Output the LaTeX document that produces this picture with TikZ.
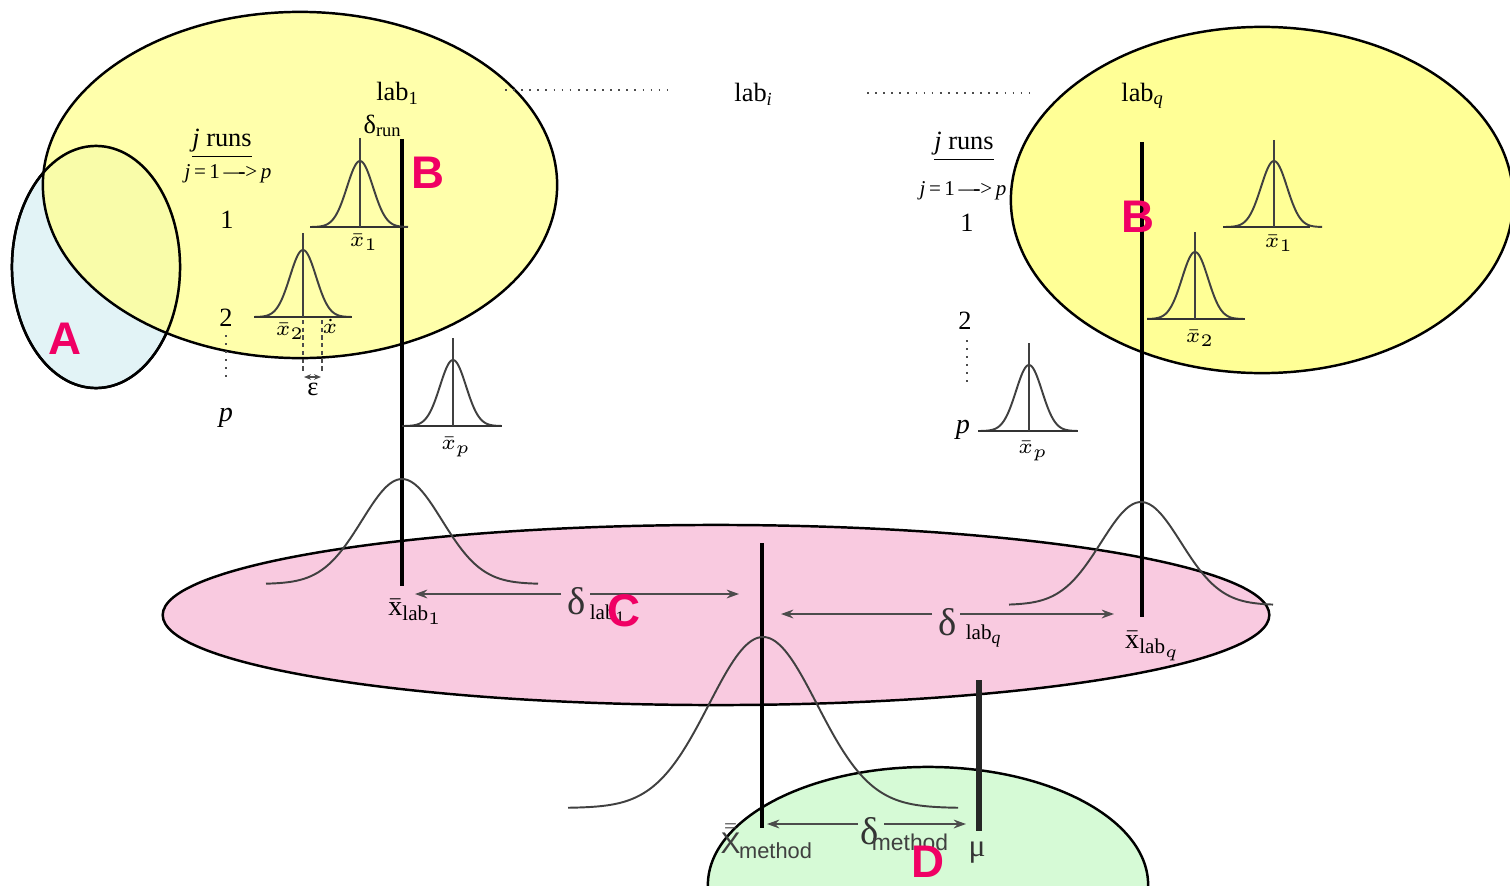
\documentclass[tikz,border=0pt]{standalone}
\usepackage{amsmath}
\usepackage{fontspec}
\setmainfont{Liberation Serif}
\setsansfont{Liberation Sans}
\usetikzlibrary{arrows.meta,shapes.geometric}
\definecolor{ylw}{RGB}{255,255,150}
\definecolor{pnk}{RGB}{249,202,224}
\definecolor{grn}{RGB}{214,250,214}
\definecolor{lblue}{RGB}{226,243,246}
\definecolor{lettred}{RGB}{240,0,100}
\newcommand{\gaussplot}[5]{\draw[gcurve] plot[domain=-#5:#5,samples=80,smooth] ({#1+\x},{#2-#3*exp(-0.5*(\x/#4)*(\x/#4))});}
\tikzset{
 t/.style={inner sep=0pt, font=\fontsize{7.5}{8}\selectfont},
 ts/.style={inner sep=0pt, font=\fontsize{6}{7}\selectfont},
 tm/.style={inner sep=0pt, font=\fontsize{8}{9}\selectfont},
 td/.style={inner sep=0pt, font=\fontsize{11}{12}\selectfont, black!80},
 lett/.style={inner sep=0pt, text=lettred, font=\sffamily\bfseries\fontsize{13}{13}\selectfont},
 ell/.style={ellipse, inner sep=0pt, outer sep=0pt, line width=0.7pt},
 vbar/.style={line width=1.1pt},
 gcurve/.style={line width=0.55pt, black!75},
 basel/.style={line width=0.7pt, black!80},
 arr/.style={-{Stealth[length=3.5pt,width=2.5pt]}, line width=0.5pt, black!70},
 dotl/.style={line width=0.6pt, black!70, dash pattern=on 0.5pt off 1.8pt},
 dashl/.style={line width=0.5pt, black!70, dash pattern=on 1.2pt off 1pt},
}
\begin{document}
\begin{tikzpicture}[x=0.01cm,y=-0.01cm]
\fill[white] (0,0) rectangle (1510,885);
\useasboundingbox (0,0) rectangle (1510,885);
\begin{scope}
\clip (0,0) rectangle (1510,885);
% ellipses
\node[ell, fill=lblue, draw, minimum width=1.68cm, minimum height=2.42cm] (eA) at (96,267) {};
\node[ell, fill=ylw, fill opacity=0.8, draw, minimum width=5.14cm, minimum height=3.46cm] (eB1) at (300,185) {};
\node[ell, draw, minimum width=1.68cm, minimum height=2.42cm] (eAo) at (96,267) {};
\node[ell, fill=ylw, draw, minimum width=5.02cm, minimum height=3.46cm] (eB2) at (1262,200) {};
\node[ell, fill=pnk, draw, minimum width=11.06cm, minimum height=1.80cm] (eC) at (716,615) {};
\node[ell, fill=grn, draw, minimum width=4.40cm, minimum height=2.36cm] (eD) at (928,885) {};
\end{scope}

% top dotted lines
\coordinate (d1a) at (505,90); \coordinate (d1b) at (668,90);
\coordinate (d2a) at (867,93); \coordinate (d2b) at (1030,93);
\draw[dotl] (d1a) -- (d1b);
\draw[dotl] (d2a) -- (d2b);

% ---------- left lab ----------
\coordinate (L1top) at (402,139); \coordinate (L1bot) at (402,586);
\draw[vbar] (L1top) -- (L1bot);
% run 1
\gaussplot{360}{227}{66}{13}{48}
\draw[basel] (310,227) -- (402,227);
\draw[gcurve] (360,138) -- (360,227);
% run 2
\gaussplot{303}{317}{67}{13}{48}
\draw[basel] (254,317) -- (352,317);
\draw[gcurve] (303,233) -- (303,317);
\draw[dashl] (303,320) -- (303,372);
\draw[dashl] (322,320) -- (322,372);
\coordinate (eps1) at (304,377); \coordinate (eps2) at (321,377);
\draw[{Stealth[length=2pt,width=1.6pt]}-{Stealth[length=2pt,width=1.6pt]}, line width=0.4pt, black!70] (eps1) -- (eps2);
% run p
\gaussplot{453}{426}{66}{13}{48}
\draw[basel] (402,426) -- (502,426);
\draw[gcurve] (453,338) -- (453,426);
% big lab1 gaussian
\gaussplot{402}{584}{105}{40}{136}

% dotted vertical
\draw[dotl] (226,335) -- (226,382);

% ---------- right lab ----------
\coordinate (Lqtop) at (1142,142); \coordinate (Lqbot) at (1142,617);
\draw[vbar] (Lqtop) -- (Lqbot);
\gaussplot{1274}{227}{66}{13}{48}
\draw[basel] (1223,227) -- (1310,227);
\draw[gcurve] (1274,140) -- (1274,227);
\gaussplot{1195}{319}{67}{13}{48}
\draw[basel] (1147,319) -- (1245,319);
\draw[gcurve] (1195,232) -- (1195,319);
\gaussplot{1029}{431}{66}{13}{48}
\draw[basel] (978,431) -- (1078,431);
\draw[gcurve] (1029,343) -- (1029,431);
\gaussplot{1141}{605}{103}{40}{132}
\draw[dotl] (967,340) -- (967,384);

% ---------- method ----------
\coordinate (Mtop) at (762,543); \coordinate (Mbot) at (762,828);
\draw[vbar] (Mtop) -- (Mbot);
\gaussplot{763}{808}{171}{54}{195}
\coordinate (mutop) at (979,680); \coordinate (mubot) at (979,831);
\draw[line width=1.8pt, black!85] (mutop) -- (mubot);

% arrows
\coordinate (a1s) at (561,594); \coordinate (a1e) at (415,594);
\coordinate (a2s) at (590,594); \coordinate (a2e) at (739,594);
\draw[arr] (a1s) -- (a1e);
\draw[arr] (a2s) -- (a2e);
\coordinate (b1s) at (932,614); \coordinate (b1e) at (781,614);
\coordinate (b2s) at (960,614); \coordinate (b2e) at (1114,614);
\draw[arr] (b1s) -- (b1e);
\draw[arr] (b2s) -- (b2e);
\coordinate (c1s) at (858,824); \coordinate (c1e) at (767,824);
\coordinate (c2s) at (884,824); \coordinate (c2e) at (966,824);
\draw[arr] (c1s) -- (c1e);
\draw[arr] (c2s) -- (c2e);

% ---------- texts ----------
\node[t] (lab1) at (398,93) {lab\textsubscript{1}};
\node[t] (drun) at (383,126) {δ\textsubscript{run}};
\node[t] (labi) at (754,94) {lab\textsubscript{\textit{i}}};
\node[t] (labq) at (1143,96) {lab\textsubscript{\textit{q}}};

\node[t] (jrL) at (222,144) {\underline{\textit{j} runs}};
\node[ts] (jpL) at (228,174) {\textit{j}\,=\,1\,—\kern-0.3em->\,\textit{p}};
\node[t] (oneL) at (227,220) {1};
\node[t] (twoL) at (226,318) {2};
\node[tm] (pL) at (226,418) {\textit{p}};
\node[ts] (x1L) at (364,242) {$\bar{x}_1$};
\node[ts] (x2L) at (290,331) {$\bar{x}_2$};
\node[ts] (xL) at (330,326) {$\dot{x}$};
\node[t] (epsL) at (313,389) {ε};
\node[ts] (xpL) at (456,447) {$\bar{x}_p$};

\node[t] (jrR) at (964,147) {\underline{\textit{j} runs}};
\node[ts] (jpR) at (963,191) {\textit{j}\,=\,1\,—\kern-0.3em->\,\textit{p}};
\node[t] (oneR) at (967,223) {1};
\node[t] (twoR) at (965,321) {2};
\node[tm] (pR) at (963,430) {\textit{p}};
\node[ts] (x1R) at (1279,243) {$\bar{x}_1$};
\node[ts] (x2R) at (1200,338) {$\bar{x}_2$};
\node[ts] (xpR) at (1033,451) {$\bar{x}_p$};

\node[tm] (xlab1) at (416,612) {$\bar{\mathrm{x}}_{\mathrm{lab}_1}$};
\node[tm] (xlabq) at (1153,646) {$\bar{\mathrm{x}}_{\mathrm{lab}_q}$};
\node[td] (dl1) at (577,601) {δ};
\node[ts] (dl1s) at (608,614) {lab\textsubscript{1}};
\node[td] (dlq) at (948,622) {δ};
\node[ts] (dlqs) at (984,636) {lab\textsubscript{\textit{q}}};
\node[td] (dm) at (870,831) {δ};
\node[inner sep=0pt, font=\sffamily\fontsize{6.5}{7}\selectfont, black!75] (dms) at (910,842) {method};
\node[inner sep=0pt, font=\fontsize{9}{10}\selectfont, black!80] (mu) at (977,853) {μ};
\node[inner sep=0pt, font=\fontsize{8.5}{9}\selectfont, black!75, anchor=base west] (xm) at (720,853) {$\bar{\bar{\text{\sffamily X}}}$\kern-0.05em\raisebox{-0.4ex}{\sffamily\fontsize{6.2}{7}\selectfont method}};

% letters
\node[lett] (LA) at (65,339) {A};
\node[lett] (LB1) at (428,173) {B};
\node[lett] (LB2) at (1138,217) {B};
\node[lett] (LC) at (624,611) {C};
\node[lett] (LD) at (928,862) {D};
\end{tikzpicture}
\end{document}
